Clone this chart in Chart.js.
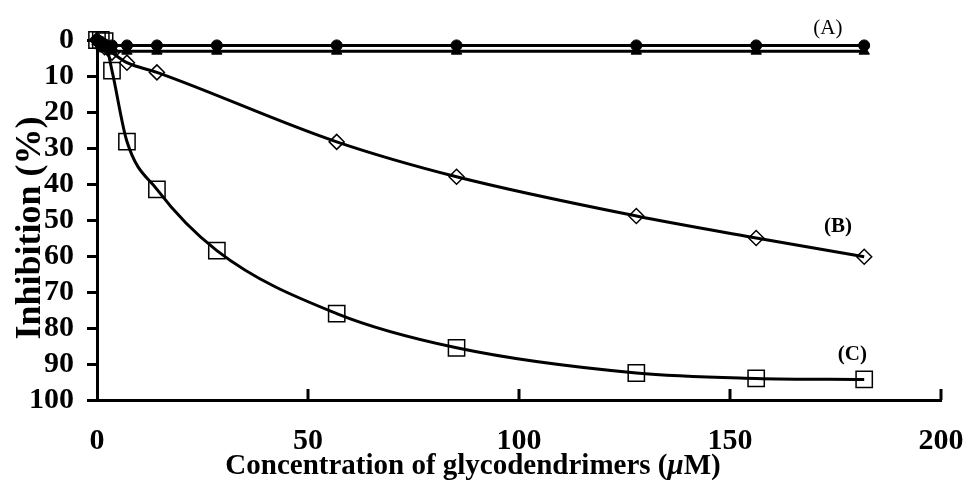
<!DOCTYPE html>
<html>
<head>
<meta charset="utf-8">
<script src="https://cdn.jsdelivr.net/npm/chart.js@4.4.1/dist/chart.umd.min.js"></script>
<style>
  html, body { margin: 0; padding: 0; background: #fff; }
  #wrap { width: 968px; height: 486px; }
</style>
</head>
<body>
<div id="wrap"><canvas id="chart" width="968" height="486"></canvas></div>
<script>
// concentrations (µM)
const conc = [0, 0.9, 1.8, 3.55, 7.1, 14.2, 28.4, 56.8, 85.2, 127.8, 156.2, 181.8];
// inhibition (%)
const seriesA1 = [0, 0.5, 1.2, 1.5, 1.5, 1.5, 1.5, 1.5, 1.5, 1.5, 1.5, 1.5];
const seriesA2 = [0.5, 1.5, 2.5, 3.1, 3.1, 3.1, 3.1, 3.1, 3.1, 3.1, 3.1, 3.1];
const seriesB = [0, 1, 2, 3.5, 6.3, 9, null, 28.3, 38, 48.9, 55, 60.2];
const seriesC = [0, 0, 0.3, 8.5, 28.2, 41.5, 58.5, 76, 85.5, 92.5, 94, 94.3];
const xTicks = [0, 50, 100, 150, 200];

const serif = '"Liberation Serif", "Times New Roman", serif';

function pts(ys) {
    const out = [];
    ys.forEach((y, i) => { if (y !== null) out.push({ x: conc[i], y: y }); });
    return out;
}

// inside tick marks on x axis, titles and series labels
const extras = {
    id: 'extras',
    afterDraw(chart) {
        const ctx = chart.ctx;
        const xs = chart.scales.x, ys = chart.scales.y;
        const bottom = chart.chartArea.bottom;
        ctx.save();
        ctx.strokeStyle = '#000';
        ctx.lineWidth = 3;
        xTicks.forEach(v => {
            if (v === 0) return;
            const px = xs.getPixelForValue(v);
            ctx.beginPath();
            ctx.moveTo(px, bottom);
            ctx.lineTo(px, bottom - 11);
            ctx.stroke();
        });

        ctx.fillStyle = '#000';
        // y title
        ctx.save();
        ctx.translate(31, 228);
        ctx.rotate(-Math.PI / 2);
        ctx.font = 'bold 36px ' + serif;
        ctx.textAlign = 'center';
        ctx.textBaseline = 'middle';
        ctx.fillText('Inhibition (%)', 0, 0);
        ctx.restore();

        // x title with italic mu
        const parts = [
            ['Concentration of glycodendrimers (', 'bold 29px ' + serif],
            ['\u03bc', 'italic bold 29px ' + serif],
            ['M)', 'bold 29px ' + serif]
        ];
        let total = 0;
        parts.forEach(p => { ctx.font = p[1]; total += ctx.measureText(p[0]).width; });
        let cx = 473 - total / 2;
        ctx.textBaseline = 'middle';
        ctx.textAlign = 'left';
        parts.forEach(p => {
            ctx.font = p[1];
            ctx.fillText(p[0], cx, 467);
            cx += ctx.measureText(p[0]).width;
        });

        // series labels
        ctx.textAlign = 'center';
        ctx.font = '21px ' + serif;
        ctx.fillText('(A)', xs.getPixelForValue(173.2), ys.getPixelForValue(-3.3));
        ctx.font = 'bold 21px ' + serif;
        ctx.fillText('(B)', xs.getPixelForValue(175.6), ys.getPixelForValue(51.7));
        ctx.fillText('(C)', xs.getPixelForValue(179), ys.getPixelForValue(87.5));
        ctx.restore();
    }
};

const base = {
    borderColor: '#000',
    borderWidth: 3,
    pointBorderColor: '#000',
    clip: false,
    fill: false
};

new Chart(document.getElementById('chart'), {
    type: 'line',
    data: {
        datasets: [
            Object.assign({}, base, {
                label: 'A1', data: pts(seriesA1),
                pointStyle: 'circle', pointRadius: 5.5, pointBackgroundColor: '#000', pointBorderWidth: 1
            }),
            Object.assign({}, base, {
                label: 'A2', data: pts(seriesA2),
                pointStyle: 'triangle', pointRadius: 6, pointBackgroundColor: '#000', pointBorderWidth: 1
            }),
            Object.assign({}, base, {
                label: 'B', data: pts(seriesB), cubicInterpolationMode: 'monotone',
                pointStyle: 'rectRot', pointRadius: 7.5, pointBackgroundColor: 'rgba(0,0,0,0)', pointBorderWidth: 1.5
            }),
            Object.assign({}, base, {
                label: 'C', data: pts(seriesC), cubicInterpolationMode: 'monotone',
                pointStyle: 'rect', pointRadius: 11.5, pointBackgroundColor: 'rgba(0,0,0,0)', pointBorderWidth: 1.5
            })
        ]
    },
    options: {
        responsive: false,
        animation: false,
        layout: { padding: { top: 40, right: 27, left: 0, bottom: 0 } },
        plugins: { legend: { display: false }, tooltip: { enabled: false } },
        scales: {
            x: {
                type: 'linear',
                min: 0, max: 200,
                afterFit: s => { s.height = 86; s.paddingLeft = 0; s.paddingRight = 0; },
                afterBuildTicks: s => { s.ticks = xTicks.map(v => ({ value: v })); },
                grid: { display: false, drawTicks: false },
                border: { display: true, color: '#000', width: 3 },
                ticks: {
                    color: '#000',
                    padding: 23,
                    maxRotation: 0,
                    autoSkip: false,
                    font: { family: serif, size: 30, weight: 'bold' }
                }
            },
            y: {
                reverse: true,
                min: 0, max: 100,
                afterFit: s => { s.width = 97; s.paddingTop = 0; s.paddingBottom = 0; },
                grid: { drawOnChartArea: false, drawTicks: true, tickLength: 10, color: '#000', lineWidth: 3 },
                border: { display: true, color: '#000', width: 3 },
                ticks: {
                    stepSize: 10,
                    autoSkip: false,
                    color: '#000',
                    padding: 13,
                    font: { family: serif, size: 30, weight: 'bold' }
                }
            }
        }
    },
    plugins: [extras]
});
</script>
</body>
</html>
